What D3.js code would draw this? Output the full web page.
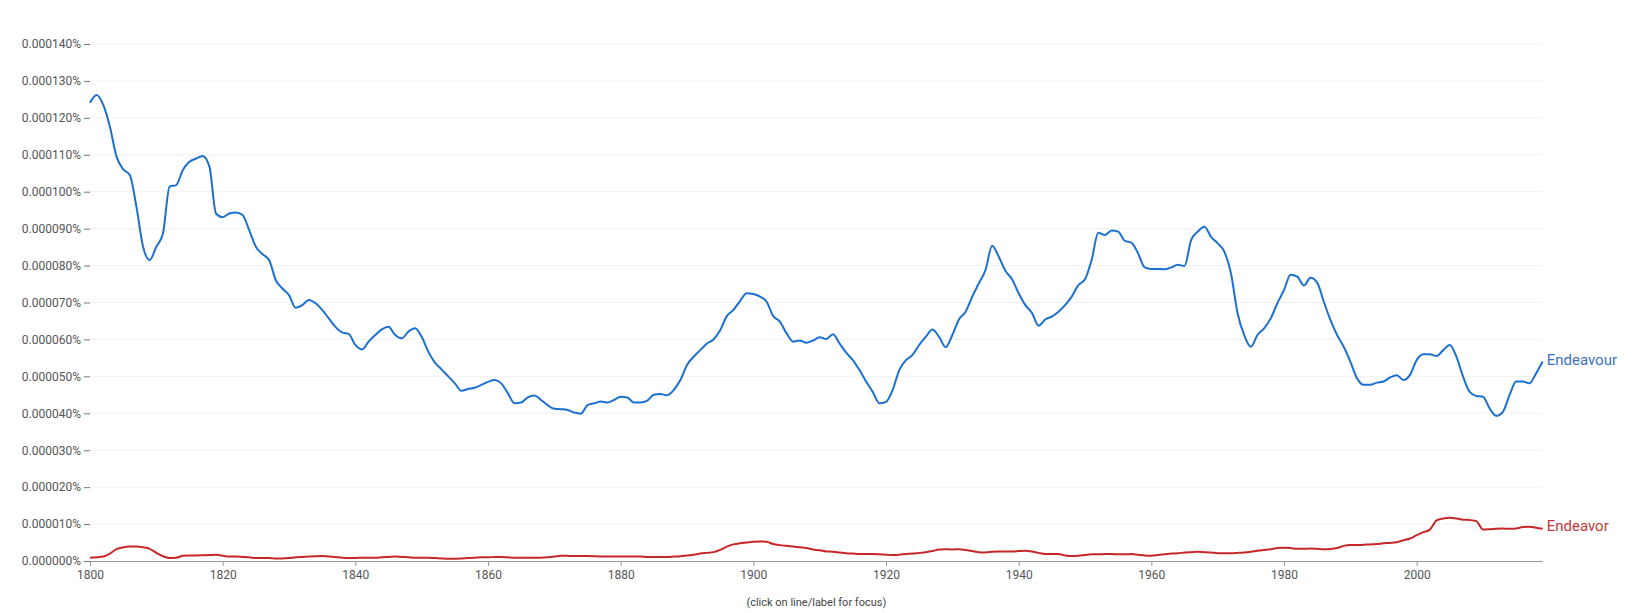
<!DOCTYPE html>
<html>
<head>
<meta charset="utf-8">
<script src="https://cdn.jsdelivr.net/npm/d3@7"></script>
<style>
  html, body { margin: 0; padding: 0; background: #fff; }
  svg { display: block; font-family: Roboto, "Noto Sans", sans-serif; }
</style>
</head>
<body>
<svg id="chart" width="1642" height="613"></svg>
<script>
// Values are in units of 0.000001 % (i.e. 1e-6 percent)
const startYear = 1800;
const endYear = 2019;
const seriesNames = ["Endeavour", "Endeavor"];
const endeavourValues = [
124.1,126.2,123.5,117.6,109.5,106.1,104.5,95.9,85.1,81.5,
85.1,88.7,101.4,101.8,105.9,108.1,109.0,109.7,106.8,94.1,
93.1,94.1,94.4,93.7,89.6,85.1,83.1,81.5,76.1,73.8,
72.0,68.6,69.3,70.7,69.8,68.0,65.7,63.4,61.9,61.5,
58.5,57.3,59.4,61.2,62.7,63.4,61.2,60.3,62.1,63.0,
60.7,56.7,53.7,51.9,50.0,48.1,46.1,46.6,46.9,47.7,
48.5,49.0,48.1,45.4,42.7,42.9,44.3,44.8,43.6,42.2,
41.2,41.1,40.9,40.2,39.9,42.2,42.7,43.2,42.9,43.6,
44.5,44.3,42.9,42.9,43.4,45.0,45.2,44.9,46.3,49.0,
53.1,55.3,57.1,58.9,60.0,62.5,66.3,68.0,70.4,72.5,
72.3,71.6,70.2,66.3,64.8,61.7,59.4,59.7,59.1,59.7,
60.6,60.1,61.4,58.9,56.4,54.4,51.7,48.6,45.8,42.7,
43.1,46.3,51.7,54.4,55.8,58.5,60.7,62.7,60.7,57.9,
61.2,65.4,67.5,71.6,75.2,78.8,85.4,82.4,78.6,76.3,
72.5,69.3,67.2,63.7,65.4,66.2,67.5,69.3,71.6,74.7,
76.3,81.5,88.9,88.3,89.5,89.2,86.7,86.2,83.3,79.5,
79.1,79.1,79.0,79.5,80.2,79.9,86.9,89.2,90.5,87.8,
86.0,83.8,77.9,67.1,61.2,58.0,61.2,63.0,65.7,69.8,
73.4,77.5,77.0,74.6,76.7,75.4,70.2,65.3,61.2,58.0,
54.0,49.5,47.7,47.7,48.3,48.6,49.7,50.3,49.0,50.4,
54.4,56.0,56.0,55.5,57.1,58.5,55.3,49.9,45.8,44.7,
44.5,41.3,39.3,40.4,44.9,48.6,48.6,48.1,50.8,54.0
];
const endeavorValues = [
0.9,1.0,1.2,2.0,3.2,3.7,3.9,3.9,3.7,3.3,
2.2,1.3,0.8,0.9,1.4,1.5,1.5,1.55,1.6,1.7,
1.4,1.2,1.2,1.1,1.0,0.8,0.8,0.8,0.7,0.7,
0.8,1.0,1.1,1.2,1.3,1.35,1.2,1.1,0.9,0.8,
0.8,0.9,0.9,0.9,1.0,1.1,1.2,1.1,1.0,0.9,
0.9,0.9,0.8,0.7,0.6,0.6,0.7,0.8,0.9,1.0,
1.0,1.1,1.1,1.0,0.9,0.9,0.9,0.9,0.9,1.0,
1.2,1.45,1.4,1.35,1.35,1.35,1.3,1.2,1.2,1.2,
1.2,1.2,1.2,1.2,1.1,1.1,1.1,1.1,1.2,1.3,
1.5,1.7,2.0,2.2,2.4,3.0,3.9,4.5,4.8,5.0,
5.2,5.3,5.2,4.6,4.3,4.1,3.9,3.7,3.5,3.1,
2.9,2.6,2.5,2.3,2.1,2.0,1.9,1.9,1.9,1.8,
1.7,1.6,1.7,1.9,2.0,2.2,2.4,2.7,3.1,3.2,
3.1,3.2,3.0,2.7,2.4,2.3,2.5,2.6,2.6,2.6,
2.7,2.8,2.6,2.2,1.9,1.9,1.9,1.5,1.35,1.4,
1.6,1.8,1.8,1.9,1.9,1.8,1.8,1.9,1.7,1.5,
1.45,1.6,1.8,2.0,2.1,2.3,2.4,2.5,2.4,2.3,
2.1,2.1,2.1,2.2,2.3,2.5,2.8,3.0,3.2,3.5,
3.6,3.5,3.3,3.3,3.4,3.3,3.2,3.25,3.5,4.1,
4.3,4.3,4.4,4.5,4.6,4.8,4.9,5.1,5.6,6.1,
7.0,7.8,8.5,11.0,11.5,11.7,11.5,11.2,11.1,10.8,
8.5,8.6,8.75,8.8,8.7,8.8,9.2,9.3,9.0,8.75
];
const yTickValues = [0,10,20,30,40,50,60,70,80,90,100,110,120,130,140];
const xTickValues = [1800,1820,1840,1860,1880,1900,1920,1940,1960,1980,2000];
const footNote = "(click on line/label for focus)";

const colors = { "Endeavour": "#1c70cf", "Endeavor": "#c62828" };
const labelColors = { "Endeavour": "#3a72c4", "Endeavor": "#c23b3b" };

(function () {
const svg = d3.select("#chart");
const plotLeft = 90, plotRight = 1542.7, plotTop = 44, plotBottom = 561;

const x = d3.scaleLinear().domain([startYear, endYear]).range([plotLeft, plotRight]);
const y = d3.scaleLinear().domain([0, 140]).range([plotBottom, plotTop]);

const years = d3.range(startYear, endYear + 1);
const series = [
  { name: seriesNames[0], values: endeavourValues },
  { name: seriesNames[1], values: endeavorValues }
];

// gridlines
svg.append("g")
  .selectAll("line")
  .data(yTickValues.filter(d => d > 0))
  .join("line")
  .attr("x1", plotLeft).attr("x2", plotRight)
  .attr("y1", d => y(d)).attr("y2", d => y(d))
  .attr("stroke", "#f2f2f2").attr("stroke-width", 1);

// y axis
const yAxis = d3.axisLeft(y)
  .tickValues(yTickValues)
  .tickSize(6)
  .tickPadding(3)
  .tickFormat(d => (d * 1e-6).toFixed(6) + "%");
const gy = svg.append("g").attr("transform", `translate(${plotLeft},0)`).call(yAxis);
gy.select(".domain").remove();
gy.selectAll(".tick line").attr("stroke", "#777");
gy.selectAll(".tick text").attr("fill", "#555").style("font-size", "12px").style("font-family", "Roboto");

// x axis
const xAxis = d3.axisBottom(x)
  .tickValues(xTickValues)
  .tickSize(5)
  .tickPadding(4)
  .tickFormat(d3.format("d"));
const gx = svg.append("g").attr("transform", `translate(0,${plotBottom})`).call(xAxis);
gx.select(".domain").attr("stroke", "#999").attr("d", `M${plotLeft},0.5H${plotRight}`);
gx.selectAll(".tick line").attr("stroke", "#999");
gx.selectAll(".tick text").attr("fill", "#555").style("font-size", "12px").style("font-family", "Roboto");

// lines
const line = d3.line()
  .x((d, i) => x(years[i]))
  .y(d => y(d))
  .curve(d3.curveMonotoneX);

svg.append("g")
  .selectAll("path")
  .data(series)
  .join("path")
  .attr("d", d => line(d.values))
  .attr("fill", "none")
  .attr("stroke", d => colors[d.name])
  .attr("stroke-width", 2)
  .attr("stroke-linejoin", "round");

// end labels
svg.append("g")
  .selectAll("text")
  .data(series)
  .join("text")
  .attr("x", plotRight + 4)
  .attr("y", d => y(d.values[d.values.length - 1]) - (d.name === "Endeavor" ? 3 : 2))
  .attr("dy", "0.35em")
  .attr("fill", d => labelColors[d.name])
  .style("font-size", "15px")
  .style("font-family", "Roboto")
  .text(d => d.name);

// footnote
svg.append("text")
  .attr("x", (plotLeft + plotRight) / 2)
  .attr("y", 602)
  .attr("dy", "0.35em")
  .attr("text-anchor", "middle")
  .attr("fill", "#444")
  .style("font-size", "11px")
  .style("font-family", "Roboto")
  .text(footNote);
})();
</script>
</body>
</html>
